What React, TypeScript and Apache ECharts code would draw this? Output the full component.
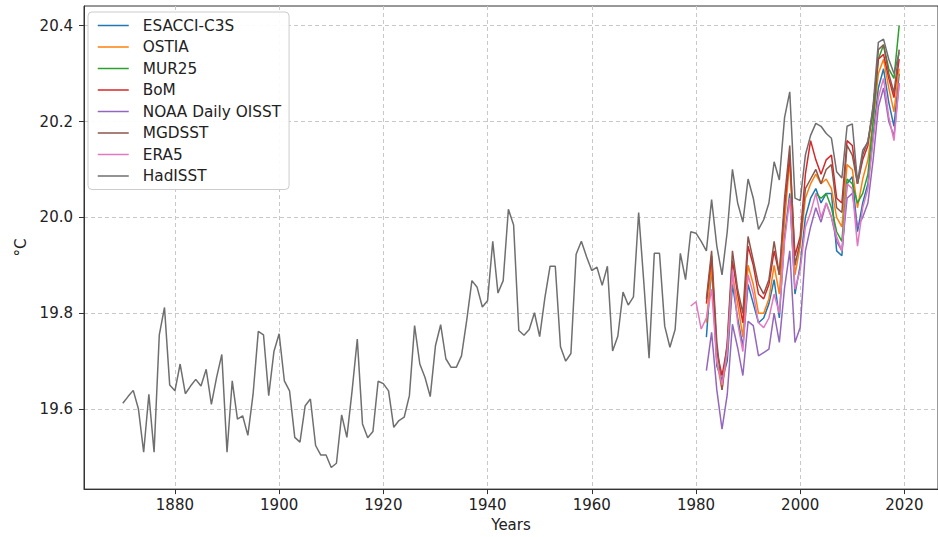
import React, { useEffect, useRef } from "react";
import * as echarts from "echarts";

const xTicks = [1880, 1900, 1920, 1940, 1960, 1980, 2000, 2020];
const yTicks = [19.6, 19.8, 20.0, 20.2, 20.4];

const hadisstStart = 1870;
const hadisst = [
  19.612, 19.626, 19.639, 19.6, 19.51, 19.631, 19.51, 19.755, 19.812, 19.65,
  19.638, 19.694, 19.632, 19.648, 19.662, 19.648, 19.683, 19.61, 19.666, 19.714,
  19.51, 19.659, 19.579, 19.586, 19.545, 19.631, 19.762, 19.755, 19.628, 19.72,
  19.757, 19.659, 19.638, 19.541, 19.531, 19.607, 19.621, 19.524, 19.504, 19.504,
  19.478, 19.487, 19.588, 19.541, 19.638, 19.746, 19.569, 19.54, 19.553, 19.658,
  19.653, 19.638, 19.562, 19.576, 19.583, 19.628, 19.774, 19.694, 19.666, 19.626,
  19.732, 19.776, 19.705, 19.687, 19.687, 19.711, 19.785, 19.868, 19.854, 19.813,
  19.826, 19.95, 19.842, 19.868, 20.017, 19.984, 19.764, 19.754, 19.766, 19.801,
  19.751, 19.832, 19.898, 19.898, 19.73, 19.7, 19.716, 19.923, 19.95, 19.918,
  19.889, 19.896, 19.858, 19.898, 19.721, 19.752, 19.844, 19.817, 19.834, 20.01,
  19.863, 19.706, 19.925, 19.925, 19.773, 19.729, 19.766, 19.925, 19.87, 19.97,
  19.967, 19.95, 19.93, 20.037, 19.94, 19.88, 19.97, 20.1, 20.03, 19.99,
  20.08, 20.04, 19.975, 19.995, 20.03, 20.116, 20.078, 20.208, 20.262, 20.04,
  20.035, 20.13, 20.171, 20.196, 20.19, 20.175, 20.165, 20.095, 20.082, 20.19,
  20.195, 20.074, 20.14, 20.157, 20.233, 20.365, 20.372, 20.33, 20.3, 20.344,
];

const satStart = 1982;
const esacci = [
  19.75, 19.9, 19.69, 19.66, 19.7, 19.86, 19.79, 19.73, 19.86, 19.82,
  19.78, 19.79, 19.82, 19.87, 19.79, 19.96, 20.05, 19.84, 19.9, 20.0,
  20.04, 20.06, 20.03, 20.05, 20.05, 19.93, 19.92, 20.07, 20.085, 19.97,
  20.03, 20.07, 20.17, 20.27, 20.31, 20.24, 20.19, 20.3,
];
const ostia = [
  19.78, 19.9, 19.7, 19.64, 19.72, 19.88, 19.82, 19.75, 19.9, 19.86,
  19.8, 19.8, 19.83, 19.9, 19.84, 19.99, 20.12, 19.88, 19.94, 20.04,
  20.07, 20.09, 20.07, 20.08, 20.06, 20.0, 19.98, 20.11, 20.1, 20.02,
  20.08, 20.12, 20.2, 20.3, 20.33, 20.27, 20.22, 20.31,
];
const murStart = 2003;
const mur25 = [
  20.05, 20.04, 20.05, 20.02, 19.97, 19.95, 20.08, 20.07, 20.03, 20.05,
  20.09, 20.2, 20.33, 20.36, 20.31, 20.29, 20.4,
];
const bom = [
  19.82, 19.92, 19.72, 19.67, 19.73, 19.91, 19.84, 19.78, 19.94, 19.9,
  19.84, 19.83, 19.86, 19.93, 19.88, 20.02, 20.13, 19.92, 19.96, 20.09,
  20.16, 20.12, 20.09, 20.12, 20.13, 20.04, 20.03, 20.16, 20.15, 20.07,
  20.12, 20.15, 20.23, 20.33, 20.34, 20.29, 20.25, 20.33,
];
const noaa = [
  19.68, 19.76, 19.64, 19.558, 19.63, 19.777, 19.728, 19.67, 19.783, 19.774,
  19.711, 19.718, 19.725, 19.8, 19.739, 19.853, 19.93, 19.739, 19.77, 19.93,
  19.98, 20.02, 19.99, 20.03, 20.0, 19.95, 19.93, 20.04, 20.05, 19.98,
  20.0, 20.03, 20.12, 20.23, 20.27, 20.2, 20.17, 20.28,
];
const mgdsst = [
  19.83, 19.93, 19.74, 19.64, 19.74, 19.93, 19.85, 19.8, 19.96, 19.91,
  19.86, 19.84, 19.87, 19.95, 19.88, 20.04, 20.15, 19.9, 19.95, 20.06,
  20.08, 20.1, 20.07, 20.1, 20.11, 20.02, 20.01, 20.15, 20.13, 20.07,
  20.13, 20.16, 20.22, 20.35, 20.36, 20.3, 20.26, 20.35,
];
const era5Start = 1979;
const era5 = [
  19.815, 19.824, 19.767, 19.79, 19.85, 19.7, 19.65, 19.72, 19.89, 19.78,
  19.72, 19.88, 19.84, 19.78, 19.77, 19.79, 19.84, 19.8, 19.95, 20.04,
  19.85, 19.89, 19.98, 20.01, 20.05, 20.0, 20.03, 20.0, 19.96, 19.93,
  20.07, 20.06, 19.94, 20.02, 20.06, 20.16, 20.25, 20.29, 20.21, 20.16,
  20.28,
];

const seriesDefs = [
  { name: "ESACCI-C3S", start: satStart, values: esacci, color: "#1f77b4" },
  { name: "OSTIA", start: satStart, values: ostia, color: "#ff7f0e" },
  { name: "MUR25", start: murStart, values: mur25, color: "#2ca02c" },
  { name: "BoM", start: satStart, values: bom, color: "#d62728" },
  { name: "NOAA Daily OISST", start: satStart, values: noaa, color: "#9467bd" },
  { name: "MGDSST", start: satStart, values: mgdsst, color: "#8c564b" },
  { name: "ERA5", start: era5Start, values: era5, color: "#e377c2" },
  { name: "HadISST", start: hadisstStart, values: hadisst, color: "#6f6f6f" },
];

const FONT = "DejaVu Sans";

export default function App() {
  const ref = useRef<HTMLDivElement>(null);
  useEffect(() => {
    if (!ref.current) return;
    const chart = echarts.init(ref.current, null, { renderer: "svg" });
    const gridLine = { show: true, lineStyle: { color: "#c8c8c8", type: [4, 3] as any, width: 1 } };
    chart.setOption({
      animation: false,
      backgroundColor: "#ffffff",
      grid: {
        left: 84,
        top: 6,
        right: -17,
        bottom: 44,
        show: true,
        borderColor: "#333",
        borderWidth: 1,
        backgroundColor: "transparent",
      },
      legend: {
        orient: "vertical",
        left: 88,
        top: 12,
        data: seriesDefs.map((s) => s.name),
        itemWidth: 31,
        itemHeight: 14,
        itemGap: 6.5,
        padding: [6, 8, 6, 9],
        borderColor: "#cccccc",
        borderWidth: 1,
        borderRadius: 4,
        backgroundColor: "rgba(255,255,255,0.92)",
        itemStyle: { opacity: 0 },
        lineStyle: { width: 1.5 },
        textStyle: { fontFamily: FONT, fontSize: 15.3, color: "#222", padding: [0, 0, 0, 9] },
        selectedMode: false,
      },
      xAxis: {
        type: "value",
        min: 1862.55,
        max: 2026.45,
        name: "Years",
        nameLocation: "middle",
        nameGap: 24,
        nameTextStyle: { fontFamily: FONT, fontSize: 15, color: "#222" },
        axisLine: { show: true, lineStyle: { color: "#333", width: 1 } },
        axisTick: { show: true, length: 5, lineStyle: { color: "#333" }, customValues: xTicks },
        axisLabel: {
          fontFamily: FONT,
          fontSize: 15,
          color: "#222",
          margin: 8,
          customValues: xTicks,
          formatter: (v: number) => String(v),
        },
        splitLine: gridLine,
      },
      yAxis: {
        type: "value",
        min: 19.433,
        max: 20.441,
        name: "°C",
        nameLocation: "middle",
        nameGap: 54,
        nameTextStyle: { fontFamily: FONT, fontSize: 15, color: "#222" },
        axisLine: { show: true, lineStyle: { color: "#333", width: 1 } },
        axisTick: { show: true, length: 5, lineStyle: { color: "#333" }, customValues: yTicks },
        axisLabel: {
          fontFamily: FONT,
          fontSize: 15,
          color: "#222",
          margin: 11,
          customValues: yTicks,
          formatter: (v: number) => v.toFixed(1),
        },
        splitLine: gridLine,
      },
      series: seriesDefs.map((s) => ({
        name: s.name,
        type: "line",
        symbol: "none",
        color: s.color,
        lineStyle: { color: s.color, width: 1.5 },
        emphasis: { disabled: true },
        data: s.values.map((v, i) => [s.start + i, v]),
      })),
    });
    return () => chart.dispose();
  }, []);
  return (
    <div
      ref={ref}
      style={{ position: "fixed", left: 0, top: 0, width: 938, height: 537 }}
    />
  );
}
